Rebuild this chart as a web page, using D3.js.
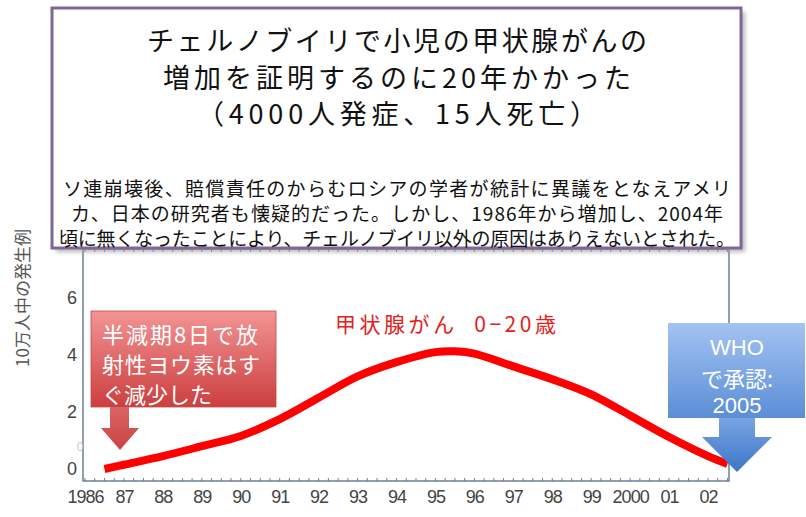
<!DOCTYPE html>
<html>
<head>
<meta charset="utf-8">
<script src="https://cdn.jsdelivr.net/npm/d3@7/dist/d3.min.js"></script>
<style>
  html, body { margin: 0; padding: 0; background: #fff; }
  svg { display: block; }
</style>
</head>
<body>
<svg id="chart" width="806" height="517"></svg>
<script>
// ---- data ----
const years  = [1986.5, 1987, 1988, 1989, 1990, 1991, 1992, 1993, 1994, 1995, 1995.5, 1996, 1997, 1998, 1999, 2000, 2001, 2002, 2002.5];
const values = [0, 0.15, 0.45, 0.8, 1.16, 1.75, 2.5, 3.25, 3.75, 4.1, 4.13, 4.05, 3.6, 3.15, 2.62, 1.88, 1.12, 0.45, 0.18];
const xTickYears  = [1986, 1987, 1988, 1989, 1990, 1991, 1992, 1993, 1994, 1995, 1996, 1997, 1998, 1999, 2000, 2001, 2002];
const xTickLabels = ["1986", "87", "88", "89", "90", "91", "92", "93", "94", "95", "96", "97", "98", "99", "2000", "01", "02"];
const yTicks = [0, 2, 4, 6];
const yAxisLabel = "10万人中の発生例";
const seriesLabel = "甲状腺がん\u00a0\u00a00−20歳";
const titleLines = ["チェルノブイリで小児の甲状腺がんの", "増加を証明するのに20年かかった", "（4000人発症、15人死亡）"];
const noteLines = ["ソ連崩壊後、賠償責任のからむロシアの学者が統計に異議をとなえアメリ",
                   "カ、日本の研究者も懐疑的だった。しかし、1986年から増加し、2004年",
                   "頃に無くなったことにより、チェルノブイリ以外の原因はありえないとされた。"];
const redCallout = ["半減期8日で放", "射性ヨウ素はす", "ぐ減少した"];
const blueCallout = ["WHO", "で承認:", "2005"];

// ---- layout ----
const svg = d3.select("#chart");
const frame = {left: 83, right: 729, top: 249, bottom: 481};
const x = d3.scaleLinear().domain([1986, 2002]).range([85, 708]);
const y = d3.scaleLinear().domain([0, 6]).range([469, 298]);
const axisColor = "#6d7f98";
const cjk = "'Noto Sans CJK JP', 'Noto Sans', sans-serif";
const latin = "'Liberation Sans', Arial, sans-serif";

const defs = svg.append("defs");
function grad(id, c1, c2) {
  const g = defs.append("linearGradient").attr("id", id).attr("x1", 0).attr("y1", 0).attr("x2", 0).attr("y2", 1);
  g.append("stop").attr("offset", "0%").attr("stop-color", c1);
  g.append("stop").attr("offset", "100%").attr("stop-color", c2);
}
grad("redBox", "#f29494", "#cc3f3f");
grad("redArrow", "#dc6464", "#c94343");
grad("blueBox", "#a3c3f2", "#5b8ed6");
grad("blueArrow", "#78a4e4", "#3d76c6");
const blur = defs.append("filter").attr("id", "shadow").attr("x", "-5%").attr("y", "-5%").attr("width", "115%").attr("height", "115%");
blur.append("feGaussianBlur").attr("stdDeviation", 2);

// ---- plot frame ----
const gFrame = svg.append("g");
gFrame.append("rect")
  .attr("x", frame.left).attr("y", frame.top)
  .attr("width", frame.right - frame.left).attr("height", frame.bottom - frame.top)
  .attr("fill", "#fff").attr("stroke", axisColor).attr("stroke-width", 1.5);

// minor ticks along bottom and top edges
const minor = d3.range(1986, 2002.6, 0.25);
gFrame.selectAll("line.mb").data(minor).join("line").attr("class", "mb")
  .attr("x1", d => x(d)).attr("x2", d => x(d))
  .attr("y1", frame.bottom).attr("y2", frame.bottom - 3)
  .attr("stroke", axisColor).attr("stroke-width", 1);
gFrame.selectAll("line.mt").data(minor).join("line").attr("class", "mt")
  .attr("x1", d => x(d)).attr("x2", d => x(d))
  .attr("y1", frame.top).attr("y2", frame.top + 3)
  .attr("stroke", axisColor).attr("stroke-width", 1);

// x axis labels via d3 axis
const xAxis = d3.axisBottom(x).tickValues(xTickYears)
  .tickFormat((d, i) => xTickLabels[i]).tickSize(0).tickPadding(9);
const gx = svg.append("g").attr("transform", `translate(0,${frame.bottom})`).call(xAxis);
gx.select(".domain").remove();
gx.selectAll("text").attr("font-family", latin).attr("font-size", 18)
  .attr("fill", "#444").attr("letter-spacing", "-1");

// y axis labels
const yAxis = d3.axisLeft(y).tickValues(yTicks).tickFormat(d3.format("d")).tickSize(0).tickPadding(6);
const gy = svg.append("g").attr("transform", `translate(${frame.left},0)`).call(yAxis);
gy.select(".domain").remove();
gy.selectAll("text").attr("font-family", latin).attr("font-size", 18).attr("fill", "#444");

// faint ghost label seen in the source image
svg.append("text").attr("x", 80).attr("y", 447).attr("text-anchor", "middle").attr("dominant-baseline", "central")
  .attr("font-family", latin).attr("font-size", 12).attr("fill", "#c4c8d0").text("0");

// y axis title
svg.append("text")
  .attr("transform", "translate(21,298) rotate(-90)")
  .attr("text-anchor", "middle").attr("dominant-baseline", "central")
  .attr("font-family", cjk).attr("font-size", 17).attr("fill", "#555")
  .text(yAxisLabel);

// ---- curve ----
const line = d3.line().x((d, i) => x(years[i])).y(d => y(d)).curve(d3.curveCatmullRom.alpha(0.5));
svg.append("path").datum(values)
  .attr("d", line).attr("fill", "none")
  .attr("stroke", "#ff0000").attr("stroke-width", 8).attr("stroke-linecap", "butt");

// series label
svg.append("text").attr("x", 335).attr("y", 323)
  .attr("dominant-baseline", "central")
  .attr("font-family", cjk).attr("font-size", 21).attr("fill", "#e3201c")
  .attr("textLength", 221).attr("lengthAdjust", "spacing")
  .text(seriesLabel);

// ---- red callout ----
const rb = {x0: 91, x1: 276, y0: 311, y1: 407};
svg.append("rect").attr("x", rb.x0).attr("y", rb.y0).attr("width", rb.x1 - rb.x0).attr("height", rb.y1 - rb.y0)
  .attr("fill", "url(#redBox)").attr("stroke", "#c24a4a").attr("stroke-width", 0.8);
svg.append("path")
  .attr("d", `M110,${rb.y1} L129,${rb.y1} L129,428 L139,428 L120,450 L101,428 L110,428 Z`)
  .attr("fill", "url(#redArrow)");
const redW = [156, 158, null];
svg.append("g").selectAll("text").data(redCallout).join("text")
  .attr("x", 102).attr("y", (d, i) => 333 + i * 30)
  .attr("dominant-baseline", "central")
  .attr("font-family", cjk).attr("font-size", 22).attr("fill", "#fff")
  .each(function(d, i) { if (redW[i]) d3.select(this).attr("textLength", redW[i]).attr("lengthAdjust", "spacing"); })
  .text(d => d);

// ---- blue callout ----
const bb = {x0: 668, x1: 805, y0: 323, y1: 418};
svg.append("path")
  .attr("d", `M719,${bb.y1} L755,${bb.y1} L755,437 L772,437 L737,472 L702,437 L719,437 Z`)
  .attr("fill", "url(#blueArrow)");
svg.append("rect").attr("x", bb.x0).attr("y", bb.y0).attr("width", bb.x1 - bb.x0).attr("height", bb.y1 - bb.y0)
  .attr("fill", "url(#blueBox)");
svg.append("g").selectAll("text").data(blueCallout).join("text")
  .attr("x", 737).attr("y", (d, i) => [347, 377, 405][i])
  .attr("text-anchor", "middle").attr("dominant-baseline", "central")
  .attr("font-family", (d, i) => i === 1 ? cjk : latin).attr("font-size", 22).attr("fill", "#fff")
  .text(d => d);

// ---- title box ----
const tb = {x0: 52, x1: 741, y0: 8, y1: 248};
svg.append("rect").attr("x", tb.x0 + 4).attr("y", tb.y0 + 4).attr("width", tb.x1 - tb.x0).attr("height", tb.y1 - tb.y0)
  .attr("fill", "#9a9a9a").attr("filter", "url(#shadow)").attr("opacity", 0.7);
svg.append("rect").attr("x", tb.x0).attr("y", tb.y0).attr("width", tb.x1 - tb.x0).attr("height", tb.y1 - tb.y0)
  .attr("fill", "#fff").attr("stroke", "#7f6898").attr("stroke-width", 3);

const titleW = [500, 468, 400];
svg.append("g").selectAll("text").data(titleLines).join("text")
  .attr("x", 397).attr("y", (d, i) => 39.5 + i * 36.5)
  .attr("text-anchor", "middle").attr("dominant-baseline", "central")
  .attr("font-family", cjk).attr("font-size", 27).attr("fill", "#111")
  .attr("textLength", (d, i) => titleW[i]).attr("lengthAdjust", "spacing")
  .text(d => d);

const noteW = [668, 652, 676];
svg.append("g").selectAll("text").data(noteLines).join("text")
  .attr("x", 397).attr("y", (d, i) => 187 + i * 25)
  .attr("text-anchor", "middle").attr("dominant-baseline", "central")
  .attr("font-family", cjk).attr("font-size", 19).attr("fill", "#111")
  .attr("textLength", (d, i) => noteW[i]).attr("lengthAdjust", "spacing")
  .text(d => d);
</script>
</body>
</html>
